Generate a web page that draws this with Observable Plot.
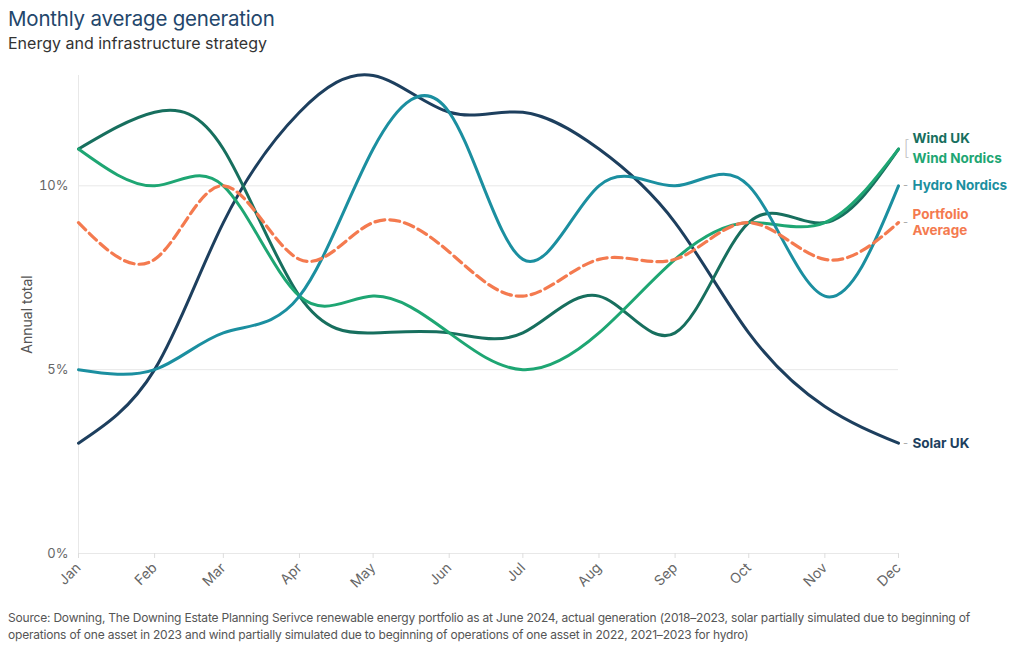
<!DOCTYPE html>
<html><head><meta charset="utf-8">
<script src="https://cdn.jsdelivr.net/npm/d3@7"></script>
<script src="https://cdn.jsdelivr.net/npm/@observablehq/plot@0.6"></script>
<style>
body{margin:0;background:#fff;font-family:Inter,"Open Sans",sans-serif;}
#wrap{position:relative;width:1020px;height:650px;overflow:hidden;}
#title{position:absolute;left:8px;top:6px;font-size:20.5px;color:#23466b;font-weight:400;letter-spacing:-0.2px;}
#subtitle{position:absolute;left:8px;top:33px;font-size:16px;color:#333;}
#chart{position:absolute;left:0;top:60px;}
#caption{position:absolute;left:8px;top:609px;font-size:12px;color:#555;line-height:17px;letter-spacing:-0.2px;}
</style></head>
<body><div id="wrap">
<div id="title">Monthly average generation</div>
<div id="subtitle">Energy and infrastructure strategy</div>
<div id="chart"></div>
<div id="caption">Source: Downing, The Downing Estate Planning Serivce renewable energy portfolio as at June 2024, actual generation (2018–2023, solar partially simulated due to beginning of<br>operations of one asset in 2023 and wind partially simulated due to beginning of operations of one asset in 2022, 2021–2023 for hydro)</div>
</div>
<script>
const months = ["2023-01-01","2023-02-01","2023-03-01","2023-04-01","2023-05-01","2023-06-01","2023-07-01","2023-08-01","2023-09-01","2023-10-01","2023-11-01","2023-12-01"];
const seriesNames = ["Solar UK","Wind UK","Wind Nordics","Hydro Nordics","Portfolio Average"];
const solarUK      = [3, 5, 9, 12, 13, 12, 12, 11, 9, 6, 4, 3];
const windUK       = [11, 12, 11, 7, 6, 6, 6, 7, 6, 9, 9, 11];
const windNordics  = [11, 10, 10, 7, 7, 6, 5, 6, 8, 9, 9, 11];
const hydroNordics = [5, 5, 6, 7, 11, 12, 8, 10, 10, 10, 7, 10];
const portfolioAvg = [9, 8, 10, 8, 9, 8.2, 7, 8, 8, 9, 8, 9];
const yTicks = [0, 5, 10];
const colors = ["#1d3f5e", "#176f5e", "#1ea673", "#1b8fa0", "#f47a4f"];
// label lines per series (one text per line), with vertical shift per line
const labelLines = [["Solar UK"], ["Wind UK"], ["Wind Nordics"], ["Hydro Nordics"], ["Portfolio", "Average"]];
const labelShifts = [[0], [-10], [10], [0], [-8, 8]];

const values = [solarUK, windUK, windNordics, hydroNordics, portfolioAvg];
const dates = months.map(d => new Date(d + "T00:00:00Z"));
const data = [];
seriesNames.forEach((s, i) => values[i].forEach((v, j) => data.push({series: s, date: dates[j], value: v})));
const last = seriesNames.map((s, i) => ({series: s, date: dates[dates.length - 1], value: values[i][values[i].length - 1], color: colors[i]}));

const font = "Inter, 'Open Sans', sans-serif";
const labelMarks = [];
last.forEach((d, i) => labelLines[i].forEach((line, k) => labelMarks.push(
  Plot.text([d], {x: "date", y: "value", text: () => line, dx: 14, dy: labelShifts[i][k],
    textAnchor: "start", fill: d.color, fontWeight: "bold", fontSize: 13.5}))));
const connectorMarks = last.filter(d => d.series !== "Wind UK" && d.series !== "Wind Nordics").map(d =>
  Plot.text([d], {x: "date", y: "value", text: () => "-", dx: 7, fill: "#aaa", fontSize: 11}));

const plot = Plot.plot({
  width: 1020, height: 540,
  marginTop: 15, marginBottom: 47, marginLeft: 78, marginRight: 122,
  style: {fontFamily: font, fontSize: "13px", background: "transparent"},
  x: {type: "utc", domain: [dates[0], dates[dates.length - 1]]},
  y: {domain: [0, 13]},
  color: {domain: seriesNames, range: colors},
  marks: [
    Plot.gridY(yTicks, {stroke: "#e8e8e8", strokeOpacity: 1}),
    Plot.ruleX([dates[0]], {stroke: "#e8e8e8"}),
    Plot.axisY({ticks: yTicks, tickSize: 0, tickPadding: 10, tickFormat: d => d + "%", fill: "#666", label: null}),
    Plot.axisY({ticks: [], tickSize: 0, fill: "#555", fontSize: 14,
      label: "Annual total", labelAnchor: "center", labelArrow: "none", labelOffset: 56}),
    Plot.axisX({ticks: dates, tickSize: 5, stroke: "#dddddd", text: null, label: null}),
    Plot.axisX({ticks: dates, tickSize: 0, tickPadding: 12, tickRotate: -45, fill: "#666", fontSize: 14,
      tickFormat: d3.utcFormat("%b"), label: null}),
    Plot.line(data.filter(d => d.series !== "Portfolio Average"), {x: "date", y: "value", z: "series", stroke: "series",
      strokeWidth: 3, curve: "natural"}),
    Plot.line(data.filter(d => d.series === "Portfolio Average"), {x: "date", y: "value", stroke: "series",
      strokeWidth: 3.2, curve: "natural", strokeDasharray: "10,5"}),
    ...connectorMarks,
    Plot.text(last.filter(d => d.series === "Wind UK"), {x: "date", y: "value", text: () => "[", dx: 8, fill: "#bbb", fontSize: 20, fontWeight: 200}),
    ...labelMarks
  ]
});
document.getElementById("chart").append(plot);
</script>
</body></html>
